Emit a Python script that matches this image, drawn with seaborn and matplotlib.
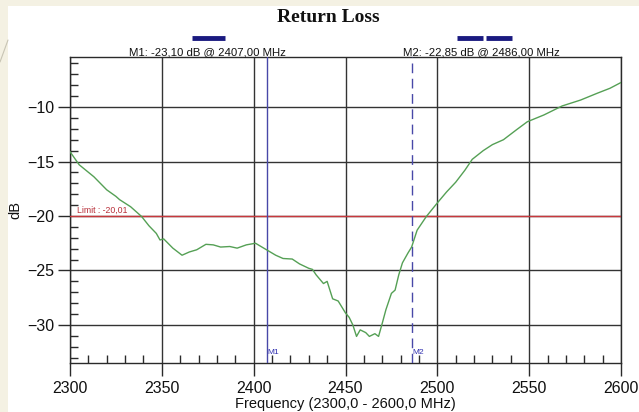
import matplotlib
matplotlib.use("Agg")
import matplotlib.pyplot as plt
from matplotlib.lines import Line2D
from matplotlib.patches import Rectangle
from matplotlib.ticker import MultipleLocator
import seaborn as sns
import pandas as pd

# Measured return loss sweep
freq_mhz = [2300, 2305, 2313, 2320, 2325, 2327, 2333, 2339, 2343, 2347, 2349, 2351,
            2356, 2361, 2365, 2369, 2374, 2378, 2382, 2387, 2391, 2396, 2401, 2404,
            2407, 2412, 2416, 2421, 2425, 2430, 2432, 2434, 2438, 2440, 2443, 2446,
            2450, 2452, 2454, 2456, 2458, 2461, 2463, 2466, 2468, 2470, 2472, 2475,
            2477, 2479, 2481, 2484, 2486, 2489, 2494, 2500, 2505, 2510, 2515, 2519,
            2525, 2530, 2536, 2543, 2549, 2558, 2568, 2578, 2587, 2594, 2600]
loss_db = [-14.1, -15.3, -16.4, -17.6, -18.2, -18.5, -19.15, -20.05, -20.9, -21.6, -22.2, -22.1,
           -22.95, -23.6, -23.3, -23.1, -22.6, -22.65, -22.85, -22.8, -22.95, -22.65, -22.5, -22.8,
           -23.10, -23.6, -23.9, -23.95, -24.4, -24.8, -24.9, -25.4, -26.2, -26.0, -27.6, -27.8,
           -28.9, -29.3, -30.0, -31.05, -30.45, -30.7, -31.05, -30.8, -31.05, -29.85, -28.6, -27.1,
           -26.8, -25.4, -24.3, -23.4, -22.85, -21.3, -20.05, -18.8, -17.8, -16.9, -15.8, -14.8,
           -14.0, -13.45, -13.0, -12.1, -11.35, -10.73, -9.9, -9.36, -8.74, -8.28, -7.75]

# Markers and limit
marker_names = ["M1", "M2"]
marker_freq = [2407.00, 2486.00]
marker_db = [-23.10, -22.85]
limit_db = -20.01

sns.set_style("ticks")
plt.rcParams["font.family"] = ["Liberation Sans", "DejaVu Sans"]

W, H = 639, 412
fig = plt.figure(figsize=(W / 100, H / 100), dpi=100)
fig.patch.set_facecolor("#f4f1e3")
fig.add_artist(Rectangle((8 / W, 0), 1, (H - 6) / H, transform=fig.transFigure,
                         facecolor="white", edgecolor="none", zorder=0))
# faint slide decoration in the corner
fig.add_artist(Line2D([0, 8 / W], [1 - 62 / H, 1 - 40 / H], transform=fig.transFigure,
                      color="#c8c4b4", lw=0.8))

ax = fig.add_axes([70 / W, 1 - 363 / H, 551 / W, 306 / H])
ax.set_facecolor("white")

df = pd.DataFrame({"Frequency": freq_mhz, "dB": loss_db})
sns.lineplot(data=df, x="Frequency", y="dB", ax=ax, color="#55a055", lw=1.0, zorder=5)

ax.set_xlim(2300, 2600)
ax.set_ylim(-33.49, -5.41)
ax.xaxis.set_major_locator(MultipleLocator(50))
ax.xaxis.set_minor_locator(MultipleLocator(10))
ax.yaxis.set_major_locator(MultipleLocator(5))
ax.yaxis.set_minor_locator(MultipleLocator(1))
ax.grid(True, which="major", color="#333333", lw=1.0, zorder=1)
ax.grid(False, which="minor")
ax.tick_params(which="both", bottom=True, left=True, top=False, right=False)
ax.tick_params(which="major", direction="out", length=9, width=1.0, color="#2a2a2a",
               labelsize=11.5, pad=2, labelcolor="#111111")
ax.tick_params(axis="x", which="major", pad=4)
ax.tick_params(which="minor", direction="in", length=6, width=1.0, color="#2a2a2a")
for sp in ax.spines.values():
    sp.set_color("#2a2a2a")
    sp.set_linewidth(1.0)
    sp.set_visible(True)

ax.set_xlabel("Frequency (2300,0 - 2600,0 MHz)", fontsize=10.5, labelpad=1, color="#111111")
ax.set_ylabel("dB", fontsize=10.5, labelpad=4, color="#111111")

# Limit line
ax.axhline(limit_db, color="#c8383c", lw=1.0, zorder=3)
ax.text(2304, limit_db + 0.15, f"Limit : {limit_db:.2f}".replace(".", ","),
        color="#b8303a", fontsize=6.3, va="bottom", ha="left", zorder=6)

# Marker lines, in-plot tags and header entries
styles = [dict(ls="-"), dict(ls=(0, (7, 4)))]
header_x = [207 / W, 481 / W]
header_bars = [[(192, 225)], [(457, 483), (486, 512)]]
for name, f, d, st, hx, bars in zip(marker_names, marker_freq, marker_db, styles,
                                    header_x, header_bars):
    ax.axvline(f, color="#4848a8", lw=1.0, zorder=4, **st)
    ax.text(f + 0.3, -32.55, name, color="#3030b0", fontsize=6, ha="left", va="center",
            zorder=6)
    label = f"{name}: {d:.2f} dB @ {f:.2f} MHz".replace(".", ",")
    fig.text(hx, 1 - 52 / H, label, fontsize=8.2, ha="center", va="center", color="#111111")
    for x0, x1 in bars:
        fig.add_artist(Line2D([x0 / W, x1 / W], [1 - 38 / H, 1 - 38 / H],
                              transform=fig.transFigure, color="#1a1a80", lw=3.5,
                              solid_capstyle="butt"))

fig.text(328 / W, 1 - 18 / H, "Return Loss", fontsize=14, ha="center", va="center",
         family=["Liberation Serif", "DejaVu Serif"], weight="bold", color="#111111")

fig.savefig("out.png", dpi=100, facecolor=fig.get_facecolor())
